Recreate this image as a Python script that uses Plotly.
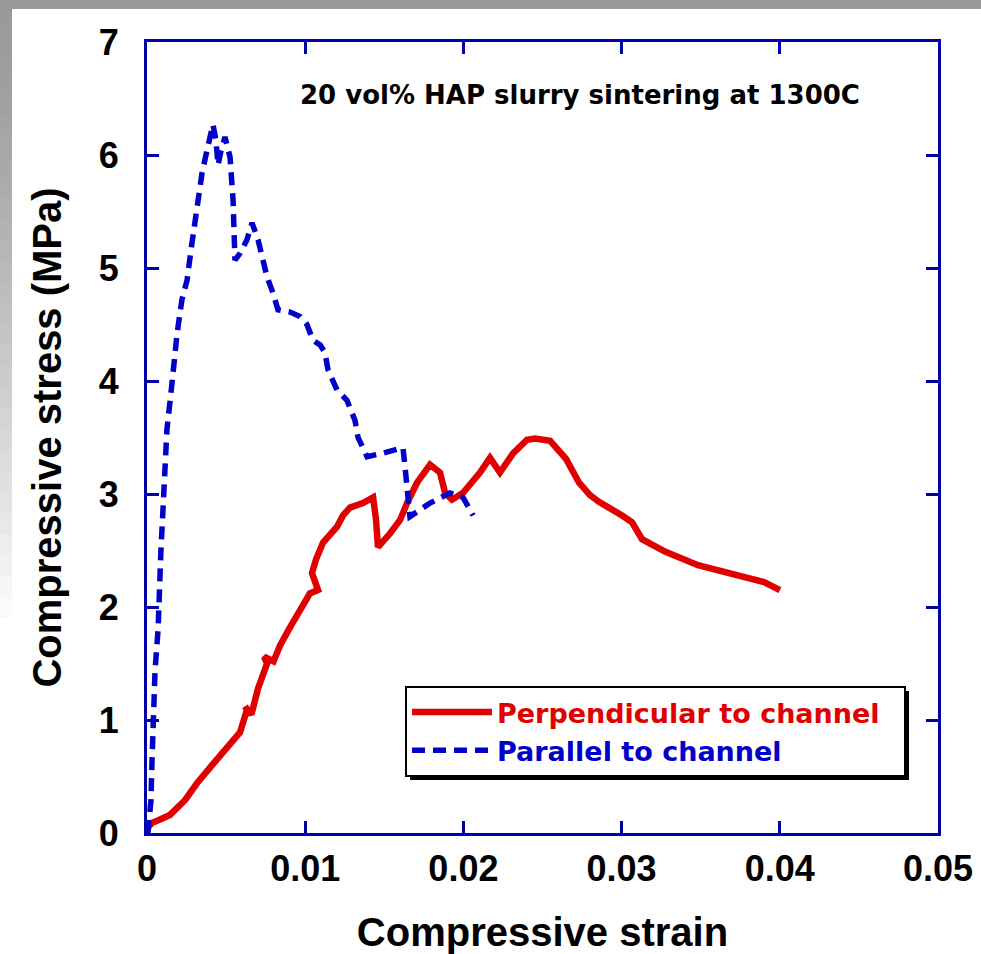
import plotly.graph_objects as go

# Compressive stress-strain curves, HAP slurry sintered at 1300C
perp_strain = [0.0, 0.00032, 0.00082, 0.00145, 0.0024, 0.00316, 0.00411, 0.00506, 0.00588,
               0.00632, 0.00620, 0.00660, 0.00702, 0.00759, 0.00740, 0.00800, 0.00841, 0.00904,
               0.00967, 0.0103, 0.01081, 0.01043, 0.01068, 0.01113, 0.01157, 0.01201, 0.01239,
               0.01283, 0.01365, 0.01429, 0.01448, 0.0146, 0.01536, 0.016, 0.01644, 0.01707,
               0.01789, 0.01852, 0.01884, 0.01928, 0.01998, 0.02105, 0.02168, 0.02231, 0.02314,
               0.02402, 0.02453, 0.02548, 0.02649, 0.02731, 0.028, 0.02857, 0.03003, 0.03066,
               0.03129, 0.03274, 0.03483, 0.03691, 0.039, 0.04001]
perp_stress = [0.04, 0.09, 0.12, 0.16, 0.29, 0.44, 0.60, 0.76, 0.89,
               1.09, 1.12, 1.05, 1.28, 1.50, 1.56, 1.52, 1.66, 1.82,
               1.97, 2.12, 2.15, 2.30, 2.42, 2.57, 2.64, 2.71, 2.81,
               2.88, 2.92, 2.97, 2.77, 2.53, 2.65, 2.77, 2.92, 3.10,
               3.26, 3.19, 3.01, 2.95, 3.01, 3.19, 3.32, 3.19, 3.36,
               3.48, 3.49, 3.47, 3.31, 3.10, 2.99, 2.93, 2.81, 2.75,
               2.60, 2.49, 2.37, 2.30, 2.22, 2.15]

par_strain = [0.00006, 0.00025, 0.00032, 0.00038, 0.00051, 0.0007, 0.00076, 0.00088, 0.00101,
              0.00114, 0.00126, 0.00158, 0.0019, 0.00221, 0.00253, 0.00284, 0.00316, 0.00348,
              0.00379, 0.00417, 0.00436, 0.00449, 0.00468, 0.00493, 0.00525, 0.00544, 0.00556,
              0.00588, 0.00632, 0.00664, 0.00702, 0.00733, 0.00759, 0.00796, 0.00828, 0.00904,
              0.00967, 0.01011, 0.01049, 0.01094, 0.01125, 0.01144, 0.01201, 0.01264, 0.01315,
              0.01334, 0.01391, 0.01486, 0.01618, 0.01631, 0.01662, 0.01726, 0.01789, 0.01915,
              0.01998, 0.02061]
par_stress = [0.0, 0.29, 0.65, 1.09, 1.44, 1.80, 2.15, 2.50, 2.86,
              3.21, 3.57, 3.98, 4.42, 4.72, 4.89, 5.22, 5.51, 5.84,
              6.04, 6.27, 6.13, 5.91, 6.04, 6.16, 5.98, 5.60, 5.07,
              5.13, 5.25, 5.40, 5.25, 5.07, 4.92, 4.78, 4.63, 4.61,
              4.57, 4.50, 4.36, 4.32, 4.25, 4.10, 3.92, 3.83, 3.65,
              3.50, 3.33, 3.36, 3.41, 3.24, 2.80, 2.86, 2.92, 3.01,
              2.97, 2.81]

x_ticks = [0, 0.01, 0.02, 0.03, 0.04, 0.05]
x_tick_text = ["0", "0.01", "0.02", "0.03", "0.04", "0.05"]
y_ticks = [0, 1, 2, 3, 4, 5, 6, 7]
y_tick_text = ["0", "1", "2", "3", "4", "5", "6", "7"]

RED = "#e00000"
BLUE = "#0000c8"
AXIS = "#0000a8"
SANS = "Liberation Sans, Arial, sans-serif"
WIDE = "DejaVu Sans, Verdana, sans-serif"

fig = go.Figure()
fig.add_trace(go.Scatter(
    x=perp_strain, y=perp_stress, mode="lines",
    name="<span style='color:#e00000'>Perpendicular to channel\u00a0\u00a0</span>",
    line=dict(color=RED, width=6.5),
))
fig.add_trace(go.Scatter(
    x=par_strain, y=par_stress, mode="lines",
    name="<span style='color:#0000c8'>Parallel to channel</span>",
    line=dict(color=BLUE, width=5.5, dash="13px,8px"),
))

W, H = 981, 954
L, R, T, B = 147, 43, 42, 121
pw, ph = W - L - R, H - T - B


def px(x):
    return (x - L) / pw


def py(y):
    return (H - B - y) / ph


shapes = []
# grey slide frame along the top edge and fading strip on the left edge
shapes.append(dict(type="rect", xref="paper", yref="paper", layer="below",
                   x0=px(0), x1=px(W), y0=py(9), y1=py(0),
                   fillcolor="#9a9a9a", line=dict(width=0)))
steps = 30
for i in range(steps):
    y0 = 9 + i * 21
    g = int(0x9a + (0xff - 0x9a) * (i / (steps - 1)) ** 1.3)
    shapes.append(dict(type="rect", xref="paper", yref="paper", layer="below",
                       x0=px(0), x1=px(12), y0=py(y0 + 21), y1=py(y0),
                       fillcolor=f"rgb({g},{g},{g})", line=dict(width=0)))
# legend drop shadow
shapes.append(dict(type="rect", xref="paper", yref="paper", layer="above",
                   x0=px(410), x1=px(909), y0=py(780), y1=py(691),
                   fillcolor="black", line=dict(width=0)))

axis_common = dict(
    showline=True, linecolor=AXIS, linewidth=3, mirror="ticks",
    ticks="inside", ticklen=12, tickwidth=3, tickcolor=AXIS,
    showgrid=False, zeroline=False, automargin=False,
    tickfont=dict(family=SANS, size=36, color="black", weight="bold"),
)

fig.update_layout(
    width=W, height=H,
    margin=dict(l=L, r=R, t=T, b=B, autoexpand=False),
    paper_bgcolor="white", plot_bgcolor="white",
    shapes=shapes,
    xaxis=dict(range=[0, 0.05], tickvals=x_ticks, ticktext=x_tick_text,
               ticklabelstandoff=2,
               title=dict(text="Compressive strain", standoff=40,
                          font=dict(family=SANS, size=40, color="black", weight="bold")),
               **axis_common),
    yaxis=dict(range=[0, 7], tickvals=y_ticks, ticktext=y_tick_text,
               ticklabelstandoff=18,
               title=dict(text="Compressive stress (MPa)", standoff=25,
                          font=dict(family=SANS, size=40, color="black", weight="bold")),
               **axis_common),
    showlegend=True,
    legend=dict(
        x=px(405), y=py(686), xanchor="left", yanchor="top",
        bgcolor="white", bordercolor="black", borderwidth=2,
        font=dict(family=WIDE, size=27, weight="bold"),
        itemwidth=80, tracegroupgap=0,
    ),
    annotations=[dict(
        text="20 vol% HAP slurry sintering at 1300C",
        xref="paper", yref="paper", x=px(580), y=py(95),
        xanchor="center", yanchor="middle", showarrow=False,
        font=dict(family=WIDE, size=26, color="black", weight="bold"),
    )],
)

fig.write_html("out.html")
